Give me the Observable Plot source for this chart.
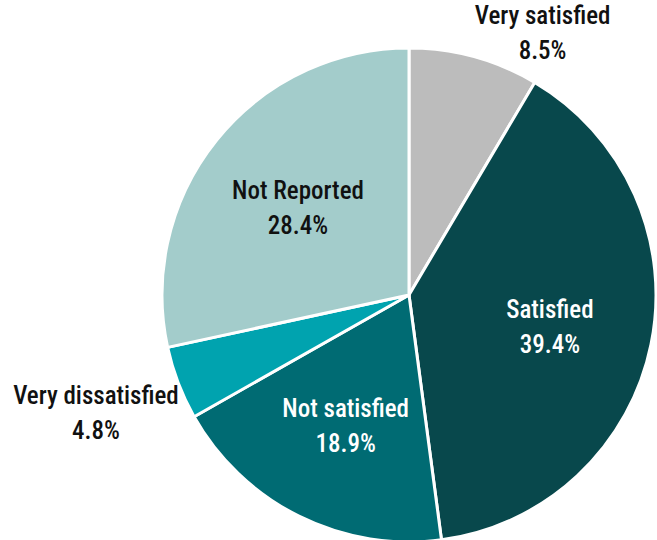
<!DOCTYPE html>
<html>
<head>
<meta charset="utf-8">
<script src="https://cdn.jsdelivr.net/npm/d3@7"></script>
<script src="https://cdn.jsdelivr.net/npm/@observablehq/plot@0.6"></script>
<style>
  html, body { margin: 0; padding: 0; background: #ffffff; }
  #chart { width: 657px; height: 540px; }
</style>
</head>
<body>
<div id="chart"></div>
<script>
// ---- data ----
const categories = ["Very satisfied", "Satisfied", "Not satisfied", "Very dissatisfied", "Not Reported"];
const values = [8.5, 39.4, 18.9, 4.8, 28.4];
const colors = ["#bcbcbc", "#08484c", "#006b73", "#00a3af", "#a3cccb"];
const labelColors = ["#111111", "#ffffff", "#ffffff", "#111111", "#111111"];

// ---- layout ----
const W = 657, H = 540;
const cx = 409, cy = 295, R = 247;   // pie centre and radius in pixels
const font = "'Roboto Condensed', 'Liberation Sans Narrow', sans-serif";
const fontSize = 25;
const fontWeight = 500;

const ctx = document.createElement("canvas").getContext("2d");
ctx.font = `${fontWeight} ${fontSize}px ${font}`;
const textWidth = s => Math.max(...s.split("\n").map(t => ctx.measureText(t).width));

const data = categories.map((c, i) => ({category: c, value: values[i], color: colors[i], labelColor: labelColors[i]}));
const arcs = d3.pie().sort(null).value(d => d.value).startAngle(0)(data);

// label positions in data units (radius = 1)
const labels = arcs.map(a => {
  const mid = (a.startAngle + a.endAngle) / 2;
  const s = Math.sin(mid), c = Math.cos(mid);
  const text = a.data.category + "\n" + a.data.value.toFixed(1) + "%";
  const outside = a.data.value < 10;
  if (outside) {
    const half = textWidth(text) / 2 / R;
    return {
      x: s * 1.0 + Math.sign(s) * (half + 0.0),
      y: c * 1.0 + Math.sign(c) * 0.11,
      text, color: a.data.labelColor
    };
  }
  return {x: s * 0.58, y: c * 0.58, text, color: a.data.labelColor};
});

function pieMark(index, scales) {
  const x = scales.x, y = scales.y;
  const px = x(0), py = y(0), pr = x(1) - x(0);
  const arc = d3.arc().innerRadius(0).outerRadius(pr);
  const g = d3.create("svg:g").attr("transform", `translate(${px},${py})`);
  g.selectAll("path").data(arcs).join("path")
    .attr("d", arc)
    .attr("fill", d => d.data.color)
    .attr("stroke", "#ffffff")
    .attr("stroke-width", 3)
    .attr("stroke-linejoin", "round");
  return g.node();
}

const chart = Plot.plot({
  width: W,
  height: H,
  margin: 0,
  x: {domain: [-cx / R, (W - cx) / R], axis: null},
  y: {domain: [-(H - cy) / R, cy / R], axis: null},
  style: {background: "#ffffff", fontFamily: font},
  marks: [
    pieMark,
    Plot.text(labels, {
      x: "x", y: "y", text: "text",
      fill: "color",
      textAnchor: "middle",
      lineAnchor: "middle",
      lineHeight: 1.4,
      fontSize: fontSize,
      fontWeight: fontWeight,
      fontFamily: font
    })
  ]
});

document.getElementById("chart").appendChild(chart);
</script>
</body>
</html>
